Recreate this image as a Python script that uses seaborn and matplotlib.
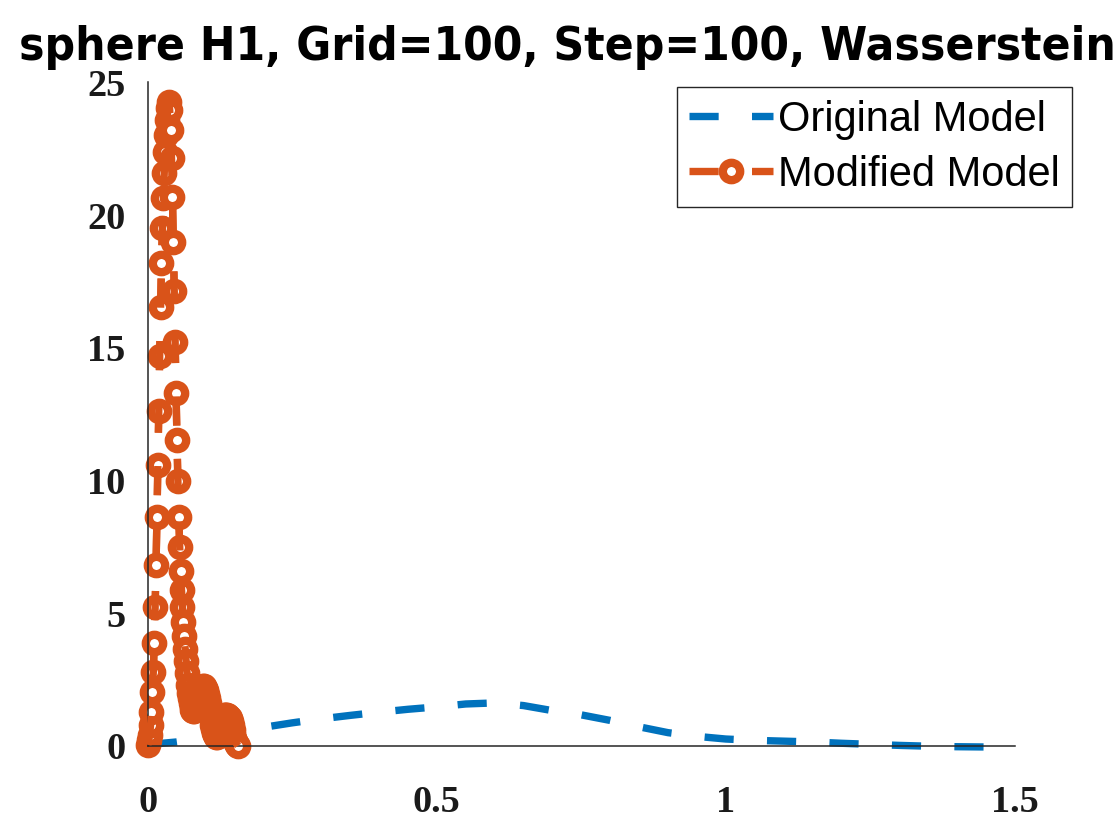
import matplotlib
matplotlib.use("Agg")
import matplotlib.pyplot as plt
import numpy as np
import pandas as pd
import seaborn as sns

sns.set_theme(style="white")
plt.rcParams["lines.scale_dashes"] = False

title = "sphere H1, Grid=100, Step=100, Wasserstein"
legend_labels = ["Original Model", "Modified Model"]
x_ticks = [0, 0.5, 1, 1.5]
x_tick_labels = ["0", "0.5", "1", "1.5"]
y_ticks = [0, 5, 10, 15, 20, 25]

# original model curve
original_x = [0.0, 0.05, 0.1, 0.15, 0.2, 0.25, 0.3, 0.35, 0.4, 0.45,
              0.5, 0.55, 0.6, 0.65, 0.7, 0.75, 0.8, 0.85, 0.9, 0.95,
              1.0, 1.05, 1.1, 1.15, 1.2, 1.25, 1.3, 1.35, 1.4, 1.45]
original_y = [0.05, 0.15, 0.3, 0.5, 0.7, 0.87, 1.02, 1.15, 1.27, 1.38,
              1.47, 1.58, 1.62, 1.52, 1.33, 1.17, 0.96, 0.72, 0.5, 0.36,
              0.26, 0.21, 0.18, 0.15, 0.1, 0.06, 0.02, -0.01, -0.03, -0.04]

# modified model: 100 grid points between 0 and ~0.156
modified_x = np.linspace(0, 0.156, 100)
modified_y = [0.04, 0.23, 0.41, 0.79, 1.28, 2.03, 2.79, 3.88, 5.23, 6.81,
              8.62, 10.58, 12.61, 14.68, 16.53, 18.19, 19.50, 20.63, 21.57, 22.36,
              23.0, 23.57, 24.02, 24.25, 23.95, 23.19, 22.14, 20.67, 18.98, 17.13,
              15.21, 13.29, 11.52, 9.98, 8.62, 7.49, 6.59, 5.87, 5.23, 4.67,
              4.14, 3.65, 3.2, 2.75, 2.3, 2.0, 1.8, 1.6, 1.45, 1.35,
              1.3, 1.3, 1.35, 1.45, 1.55, 1.7, 1.8, 1.95, 2.05, 2.15,
              2.2, 2.25, 2.25, 2.2, 2.1, 1.95, 1.8, 1.6, 1.4, 1.2,
              1.0, 0.8, 0.65, 0.5, 0.4, 0.35, 0.35, 0.4, 0.5, 0.6,
              0.75, 0.95, 1.05, 1.1, 1.15, 1.15, 1.15, 1.15, 1.12, 1.1,
              1.05, 0.95, 0.8, 0.6, 0.45, 0.3, 0.2, 0.1, 0.05, 0.0]

blue = "#0072BD"
orange = "#D95319"
dark = "#262626"
dash = (0, (21, 24))
lw = 5.3

orig = pd.DataFrame({"x": original_x, "y": original_y})
mod = pd.DataFrame({"x": modified_x, "y": modified_y})

fig = plt.figure(figsize=(11.2, 8.4), dpi=100)
ax = fig.add_axes([0.132, 0.112, 0.774, 0.79])

sns.lineplot(data=orig, x="x", y="y", ax=ax, color=blue, lw=lw, linestyle=dash,
             estimator=None, sort=False, label=legend_labels[0], clip_on=False)
sns.lineplot(data=mod, x="x", y="y", ax=ax, color=orange, lw=lw, linestyle=dash,
             marker="o", markersize=12.5, markerfacecolor="white",
             markeredgecolor=orange, markeredgewidth=6,
             estimator=None, sort=False, label=legend_labels[1], clip_on=False)
# dashes drawn again on top so they run through the marker centres
ax.plot(modified_x, modified_y, color=orange, lw=lw, linestyle=dash, zorder=3, clip_on=False)

ax.set_xlim(0, 1.5)
ax.set_ylim(0, 25)
ax.set_xticks(x_ticks)
ax.set_xticklabels(x_tick_labels)
ax.set_yticks(y_ticks)
ax.set_xlabel("")
ax.set_ylabel("")

for side in ["top", "right"]:
    ax.spines[side].set_visible(False)
for side in ["left", "bottom"]:
    ax.spines[side].set_color(dark)
    ax.spines[side].set_linewidth(1.1)

ax.tick_params(axis="both", direction="in", length=6, width=1, color=dark,
               labelsize=27.5, labelcolor="#1a1a1a")
ax.tick_params(axis="x", pad=28)
ax.tick_params(axis="y", pad=16)
for lab in ax.get_xticklabels() + ax.get_yticklabels():
    lab.set_family("Liberation Serif")
    lab.set_fontweight("bold")

leg = ax.legend(loc="upper right", bbox_to_anchor=(0.957, 0.896),
                bbox_transform=fig.transFigure, borderaxespad=0,
                prop={"family": "Liberation Sans", "size": 30},
                frameon=True, fancybox=False, framealpha=1, edgecolor=dark,
                handlelength=2.0, handletextpad=0.12, borderpad=0.3, labelspacing=0.36)
leg.get_frame().set_linewidth(1)
for txt in leg.get_texts():
    txt.set_color("black")

t = fig.text(0.507, 0.929, title, ha="center", va="baseline",
             fontsize=40, fontweight="bold", fontstretch="condensed",
             family="DejaVu Sans", color="black")
fig.canvas.draw()
w = t.get_window_extent(fig.canvas.get_renderer()).width
t.set_fontsize(40 * 1095 / w)

fig.savefig("out.png", dpi=100)
